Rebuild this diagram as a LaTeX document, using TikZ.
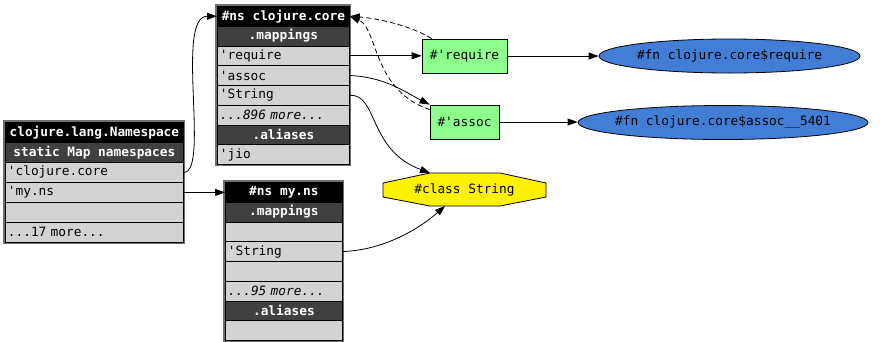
\documentclass[tikz,border=0pt]{standalone}
\usepackage{fontspec}
\newfontfamily\mono{DejaVu Sans Mono}[Ligatures=TeXOff,
  BoldFont={DejaVu Sans Mono Bold}, ItalicFont={DejaVu Sans Mono Oblique},
  WordSpace={1,0,0}]
\usetikzlibrary{arrows.meta,shapes.geometric,fit}

\definecolor{rowgray}{RGB}{211,211,211}
\definecolor{subgray}{RGB}{64,64,64}
\definecolor{vargreen}{RGB}{140,255,140}
\definecolor{fnblue}{RGB}{66,126,214}
\definecolor{framegray}{RGB}{110,110,110}

\newcommand\dvm{\mono\fontsize{12.8}{15}\selectfont}
\newcommand\dvmb{\dvm\bfseries}
\newcommand\dvmi{\dvm\itshape}
% one full character cell of blank space in the current monospaced font
\newcommand\bsp{\hbox to \fontcharwd\font`M{\hss}}

\tikzset{
  cell/.style={draw=black, line width=0.8pt, minimum height=19.75pt,
    inner xsep=2.5pt, inner ysep=0pt, anchor=north west, font=\dvm},
  hd/.style={cell, fill=black, text=white, font=\dvmb, align=center, text width=#1},
  sub/.style={cell, fill=subgray, text=white, font=\dvmb, align=center, text width=#1},
  row/.style={cell, fill=rowgray, align=left, text width=#1},
  tall/.style={minimum height=20pt},
  tframe/.style={draw=framegray, line width=1.2pt, inner sep=1pt},
  var/.style={draw=black, line width=0.8pt, fill=vargreen, font=\dvm,
    minimum height=34pt, inner sep=0pt},
  fn/.style={ellipse, draw=black, line width=0.8pt, fill=fnblue,
    minimum height=34pt, inner sep=0pt},
  fntext/.style={font=\dvm, inner sep=0pt},
  arr/.style={-{Triangle[length=10pt,width=7pt]}, line width=0.8pt},
  back/.style={arr, dash pattern=on 5pt off 3pt},
}

\begin{document}
\begin{tikzpicture}[x=1pt, y=-1pt]
  \useasboundingbox (0,0) rectangle (880,341);

  % clojure.lang.Namespace
  \node[hd=173pt, tall]  (t1h)  at (5,122) {clojure.lang.Namespace};
  \node[sub=173pt, tall] (t1s)  at (5,142) {static\bsp Map\bsp namespaces};
  \node[row=173pt, tall] (t1r1) at (5,162) {'clojure.core};
  \node[row=173pt, tall] (t1r2) at (5,182) {'my.ns};
  \node[row=173pt, tall] (t1r3) at (5,202) {};
  \node[row=173pt, tall] (t1r4) at (5,222) {...17 more...};
  \node[tframe, fit=(t1h)(t1r4)] (t1) {};

  % #ns clojure.core
  \node[hd=127pt]  (t2h)  at (217,6)      {\#ns\bsp clojure.core};
  \node[sub=127pt] (t2m)  at (217,25.75)  {.mappings};
  \node[row=127pt] (t2r1) at (217,45.5)   {'require};
  \node[row=127pt] (t2r2) at (217,65.25)  {'assoc};
  \node[row=127pt] (t2r3) at (217,85)     {'String};
  \node[row=127pt] (t2r4) at (217,104.75) {\dvmi ...896 more...};
  \node[sub=127pt] (t2a)  at (217,124.5)  {.aliases};
  \node[row=127pt] (t2r5) at (217,144.25) {'jio};
  \node[tframe, fit=(t2h)(t2r5)] (t2) {};

  % #ns my.ns
  \node[hd=112pt]  (t3h)  at (225,182)    {\#ns\bsp my.ns};
  \node[sub=112pt] (t3m)  at (225,201.75) {.mappings};
  \node[row=112pt] (t3r1) at (225,221.5)  {};
  \node[row=112pt] (t3r2) at (225,241.25) {'String};
  \node[row=112pt] (t3r3) at (225,261)    {};
  \node[row=112pt] (t3r4) at (225,280.75) {\dvmi ...95 more...};
  \node[sub=112pt] (t3a)  at (225,300.5)  {.aliases};
  \node[row=112pt] (t3r5) at (225,320.25) {};
  \node[tframe, fit=(t3h)(t3r5)] (t3) {};

  % vars
  \node[var, minimum width=85pt] (req) at (464.5,56)  {\#'require};
  \node[var, minimum width=69pt] (asc) at (464.5,122) {\#'assoc};

  % functions
  \node[fn, minimum width=261pt] (freq) at (729.5,56)  {};
  \node[fntext] (freqT) at (freq.center) {\#fn clojure.core\$require};
  \node[fn, minimum width=290pt] (fasc) at (723,122.5) {};
  \node[fntext] (fascT) at (fasc.center) {\#fn clojure.core\$assoc\_\_5401};

  % class (octagon)
  \coordinate (oTL) at (430,173);
  \coordinate (oTR) at (500,173);
  \coordinate (oRT) at (546,183);
  \coordinate (oRB) at (546,197);
  \coordinate (oBR) at (500,206);
  \coordinate (oBL) at (430,206);
  \coordinate (oLB) at (383,197);
  \coordinate (oLT) at (383,183);
  \draw[fill=yellow, line width=0.8pt]
    (oTL) -- (oTR) -- (oRT) -- (oRB) -- (oBR) -- (oBL) -- (oLB) -- (oLT) -- cycle;
  \node[font=\dvm] (cls) at (464.5,189.5) {\#class String};
  \coordinate (clsIn) at (445,206);

  % connectors
  \draw[arr] (t1r1.east) .. controls (210,172) and (175,16) .. (t2h.west);
  \draw[arr] (t1r2.east) -- (t1r2.east -| t3h.west);
  \draw[arr] (t2r1.east) -- (t2r1.east -| req.west);
  \draw[arr] (t2r2.east) .. controls (385,77) and (405,92) .. (asc.north west);
  \draw[arr] (t2r3.east) .. controls (378,94) and (368,150) .. (oTL);
  \draw[arr] (t3r2.east) .. controls (385,250) and (420,228) .. (clsIn);
  \draw[arr] (req.east) -- (freq.west);
  \draw[arr] (asc.east) -- (asc.east -| fasc.west);
  \draw[back] ([xshift=10pt]req.north west) .. controls (410,25) and (375,18) .. (t2h.east);
  \draw[back] ([yshift=-5pt]asc.north west) .. controls (372,90) and (378,28) .. (t2h.east);
\end{tikzpicture}
\end{document}
